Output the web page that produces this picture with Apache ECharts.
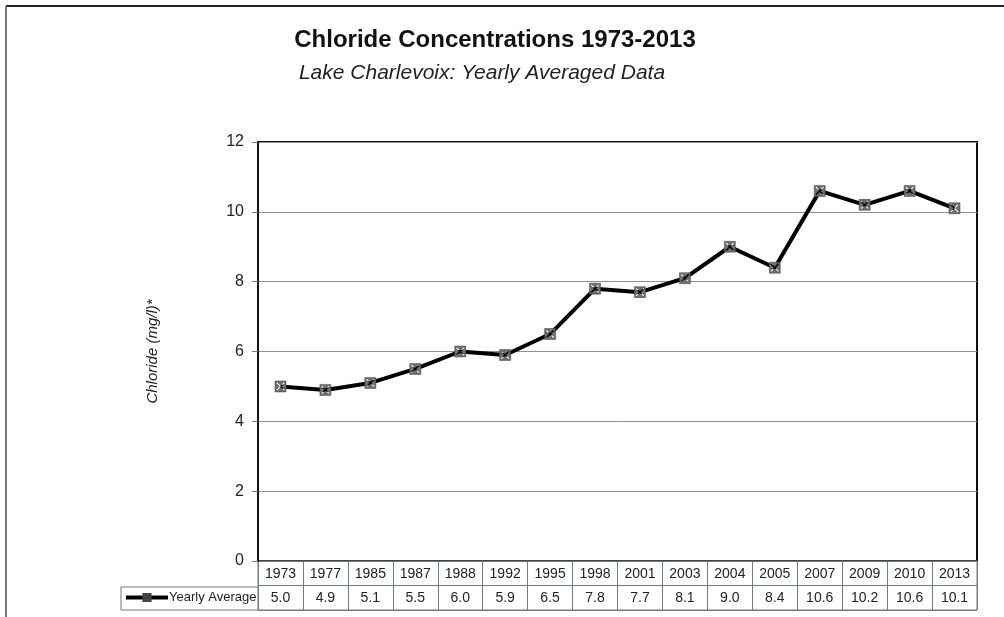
<!DOCTYPE html>
<html>
<head>
<meta charset="utf-8">
<script src="https://cdn.jsdelivr.net/npm/echarts@6/dist/echarts.min.js"></script>
<style>
html,body{margin:0;padding:0;background:#fff;}
#chart{width:1004px;height:617px;}
</style>
</head>
<body>
<div id="chart"></div>
<script>
const years = ['1973','1977','1985','1987','1988','1992','1995','1998','2001','2003','2004','2005','2007','2009','2010','2013'];
const yearlyAverage = [5.0, 4.9, 5.1, 5.5, 6.0, 5.9, 6.5, 7.8, 7.7, 8.1, 9.0, 8.4, 10.6, 10.2, 10.6, 10.1];
const yTicks = [0, 2, 4, 6, 8, 10, 12];

const FONT = '"Liberation Sans", Arial, sans-serif';
const markerPath = 'path://M0,0 L10,0 L10,10 L0,10 Z M2,1 L1,2 L4,5 L1,8 L2,9 L5,6 L8,9 L9,8 L6,5 L9,2 L8,1 L5,4 Z';

const chart = echarts.init(document.getElementById('chart'), null, {renderer: 'canvas'});
chart.setOption({
  backgroundColor: '#fff',
  animation: false,
  title: [
    {text: 'Chloride Concentrations 1973-2013', left: 490, top: 23, textAlign: 'center',
     textStyle: {fontFamily: FONT, fontSize: 24, fontWeight: 'bold', color: '#111'}},
    {text: 'Lake Charlevoix: Yearly Averaged Data', left: 477, top: 58, textAlign: 'center',
     textStyle: {fontFamily: FONT, fontSize: 21, fontStyle: 'italic', fontWeight: 'normal', color: '#222'}}
  ],
  legend: {
    left: 124, top: 591, padding: 0, itemWidth: 42, itemHeight: 9, itemGap: 4,
    lineStyle: {width: 4, color: '#000'},
    textStyle: {fontFamily: FONT, fontSize: 13, color: '#222', padding: [0,0,0,-4]},
    data: ['Yearly Average']
  },
  graphic: [
    {type: 'polyline', shape: {points: [[258,587],[121,587],[121,610],[258,610]]}, style: {stroke: '#6b7b88', lineWidth: 1, fill: null}, z: 10},
    {type: 'line', shape: {x1: 6, y1: 6, x2: 1004, y2: 6}, style: {stroke: '#222', lineWidth: 2}},
    {type: 'line', shape: {x1: 6, y1: 6, x2: 6, y2: 617}, style: {stroke: '#777', lineWidth: 2}}
  ],
  grid: [
    {left: 258, right: 27, top: 142, bottom: 56, show: true, borderColor: '#111', borderWidth: 2, containLabel: false},
    {left: 258, right: 27, top: 561, height: 49, show: true, borderColor: '#6b7b88', borderWidth: 1, backgroundColor: 'transparent'}
  ],
  xAxis: [
    {type: 'category', gridIndex: 0, data: years, boundaryGap: true,
     axisLine: {show: false}, axisTick: {show: false}, axisLabel: {show: false}, splitLine: {show: false}},
    {type: 'category', gridIndex: 1, data: years, boundaryGap: true, position: 'top',
     axisLine: {show: false}, axisTick: {show: false},
     splitLine: {show: true, interval: 0, lineStyle: {color: '#6b7b88', width: 1}},
     axisLabel: {inside: true, margin: 6, interval: 0, fontFamily: FONT, fontSize: 14, color: '#222', verticalAlign: 'top'}},
    {type: 'category', gridIndex: 1, data: yearlyAverage.map(v => v.toFixed(1)), boundaryGap: true, position: 'bottom',
     axisLine: {show: false}, axisTick: {show: false}, splitLine: {show: false},
     axisLabel: {inside: true, margin: 5, interval: 0, fontFamily: FONT, fontSize: 14, color: '#222', verticalAlign: 'bottom'}}
  ],
  yAxis: [
    {type: 'value', gridIndex: 0, min: yTicks[0], max: yTicks[yTicks.length-1], interval: 2,
     name: 'Chloride (mg/l)*', nameLocation: 'middle', nameRotate: 90, nameGap: 98,
     nameTextStyle: {fontFamily: FONT, fontSize: 15, fontStyle: 'italic', color: '#222'},
     axisLine: {show: true, lineStyle: {color: '#111', width: 2}},
     axisTick: {show: true, length: 6, lineStyle: {color: '#777', width: 1}},
     axisLabel: {margin: 14, fontFamily: FONT, fontSize: 16, color: '#222'},
     splitLine: {show: true, lineStyle: {color: '#8a9298', width: 1}}},
    {type: 'value', gridIndex: 1, min: 0, max: 2, interval: 1,
     axisLine: {show: false}, axisTick: {show: false}, axisLabel: {show: false},
     splitLine: {show: true, lineStyle: {color: '#6b7b88', width: 1}}}
  ],
  series: [
    {name: 'Yearly Average', type: 'line', xAxisIndex: 0, yAxisIndex: 0, data: yearlyAverage,
     symbol: markerPath, symbolSize: 11, showAllSymbol: true,
     lineStyle: {color: '#000', width: 4},
     itemStyle: {color: '#6f6f6f', borderColor: '#444', borderWidth: 0.5}, z: 5}
  ]
});
</script>
</body>
</html>
